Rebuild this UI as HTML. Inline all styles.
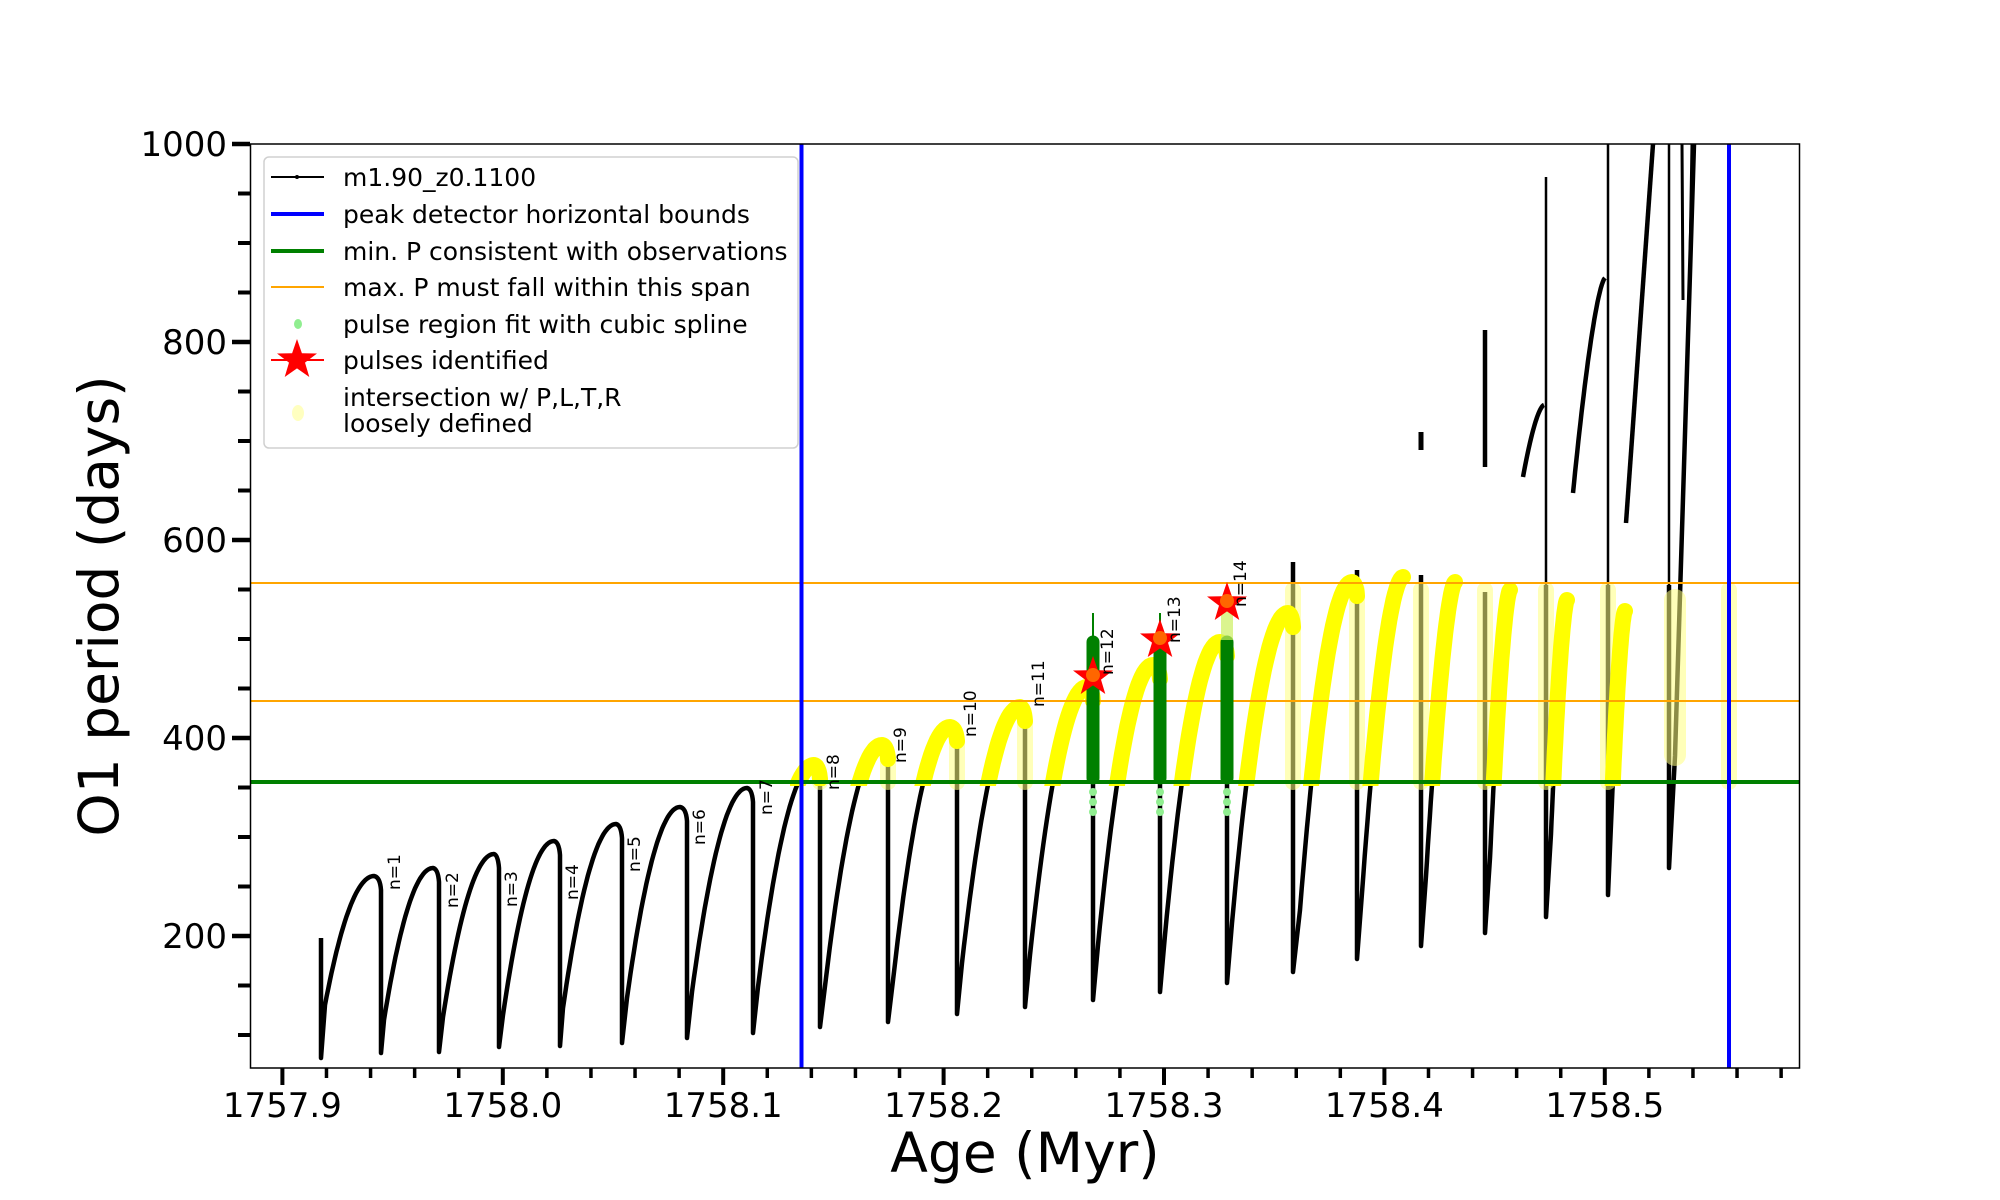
<!DOCTYPE html>
<html><head><meta charset="utf-8"><style>
html,body{margin:0;padding:0;background:#fff}
svg{display:block}
text{font-family:"DejaVu Sans","Liberation Sans",sans-serif}
</style></head><body>
<svg id="s" width="2000" height="1200" viewBox="0 0 2000 1200" xmlns="http://www.w3.org/2000/svg">
<defs>
<clipPath id="ax"><rect x="250" y="144" width="1549" height="924"/></clipPath>
<clipPath id="yc"><rect x="790" y="560" width="1009" height="226"/></clipPath>
</defs>
<rect x="0" y="0" width="2000" height="1200" fill="#fff"/>
<g id="plot" clip-path="url(#ax)">
<path id="blk" fill="none" stroke="#000" stroke-width="4.5" stroke-linejoin="round"/>
<g id="extra" fill="none" stroke="#000" stroke-width="4.5"></g>
<g id="faint" stroke="#ffff80" stroke-opacity="0.55" stroke-width="16" stroke-linecap="round" fill="none"></g>
<path id="ylw" clip-path="url(#yc)" fill="none" stroke="#ffff00" stroke-width="16" stroke-linecap="round" stroke-linejoin="round"/>
<line x1="250" y1="782" x2="1799" y2="782" stroke="#008000" stroke-width="4"/>
<line x1="250" y1="583" x2="1799" y2="583" stroke="#ffa500" stroke-width="2"/>
<line x1="250" y1="701" x2="1799" y2="701" stroke="#ffa500" stroke-width="2"/>
<line x1="801.5" y1="144" x2="801.5" y2="1068" stroke="#0000ff" stroke-width="4"/>
<line x1="1729" y1="144" x2="1729" y2="1068" stroke="#0000ff" stroke-width="4"/>
<g id="grn"></g>
</g>
<rect x="250.5" y="144" width="1549" height="924" fill="none" stroke="#000" stroke-width="1.5"/>
<g id="ticks" stroke="#000"></g>
<g id="tl" font-size="34" fill="#000"></g>
<g id="lbl" font-size="17" fill="#000"></g>
<text x="1025" y="1172" font-size="55" text-anchor="middle">Age (Myr)</text>
<text transform="translate(118,606) rotate(-90)" font-size="55" text-anchor="middle">O1 period (days)</text>
<g>
<rect x="264" y="157" width="534" height="291" rx="5" fill="#fff" fill-opacity="0.85" stroke="#d0d0d0" stroke-width="1.5"/>
<line x1="271" y1="177" x2="324" y2="177" stroke="#000" stroke-width="2"/><circle cx="297" cy="177" r="2" fill="#000"/>
<line x1="271" y1="214" x2="324" y2="214" stroke="#0000ff" stroke-width="4"/>
<line x1="271" y1="251" x2="324" y2="251" stroke="#008000" stroke-width="4"/>
<line x1="271" y1="287" x2="324" y2="287" stroke="#ffa500" stroke-width="2"/>
<ellipse cx="298" cy="324" rx="4" ry="5" fill="#90ee90"/>
<line x1="271" y1="360" x2="324" y2="360" stroke="#ff0000" stroke-width="2"/>
<polygon id="lstar" fill="#ff0000"/>
<ellipse cx="298" cy="413" rx="6" ry="8" fill="#ffffc0"/>
<g font-size="25" fill="#000">
<text x="343" y="186">m1.90_z0.1100</text>
<text x="343" y="223">peak detector horizontal bounds</text>
<text x="343" y="260">min. P consistent with observations</text>
<text x="343" y="296">max. P must fall within this span</text>
<text x="343" y="333">pulse region fit with cubic spline</text>
<text x="343" y="369">pulses identified</text>
<text x="343" y="406">intersection w/ P,L,T,R</text>
<text x="343" y="432">loosely defined</text>
</g>
</g>
</svg>
<script>
(function(){
var NS="http://www.w3.org/2000/svg";
function el(t,a,p){var e=document.createElementNS(NS,t);for(var k in a)e.setAttribute(k,a[k]);if(p)p.appendChild(e);return e;}
var C=[[325,1005,374,876,381,1053],[384,1020,433,868,439,1052],[443,1017,494,854,499,1047],[503,1015,554,841,560,1046],
[563,1008,616,824,622,1043],[627,998,680,807,687,1038],[692,992,747,788,753,1033],[758,987,814,765,820,1027],
[826,978,882,745,888,1022],[894,972,950,727,957,1014],[962,963,1020,707,1025,1007],[1030,955,1087,687,1093,1000],
[1098,945,1153,665,1160,992],[1165,935,1220,642,1227,983],[1232,923,1288,613,1293,972],[1300,910,1352,582,1357,959]];
function arc(x0,y0,x1,y1,p){var s="";for(var i=0;i<=30;i++){var t=i/30;var x=x0+(x1-x0)*t;var y=y0+(y1-y0)*(1-Math.pow(1-t,p));s+=" L"+x.toFixed(1)+" "+y.toFixed(1);}return s;}
var d="M321 938 L321 1058 L325 1005", yd="";
var f=document.getElementById("faint");
for(var i=0;i<C.length;i++){var c=C[i];
 if(i>0)d+=" L"+c[0]+" "+c[1];
 var a=arc(c[0],c[1],c[2],c[3],2);
 var q=" Q"+(c[4]-1)+" "+(c[3]+1)+" "+c[4]+" "+(c[3]+14);
 d+=a+q+" L"+c[4]+" "+c[5];
 yd+=" M"+c[0]+" "+c[1]+a+q;
 if(i>=7&&i<=10) el("line",{x1:c[4],y1:c[3]+14,x2:c[4],y2:782},f);}
var a16=arc(1362,893,1403,577,1.8);
d+=" L1362 893"+a16; yd+=" M1362 893"+a16;
var late=[[1421,575,946,1426,876,1455,582],[1485,592,933,1490,858,1510,590],[1546,585,917,1551,834,1567,600],[1608,585,895,1612,801,1625,611]];
late.forEach(function(L){var aa=arc(L[3],L[4],L[5],L[6],1.6);d+=" M"+L[0]+" "+L[1]+" L"+L[0]+" "+L[2]+" L"+L[3]+" "+L[4]+aa;yd+=" M"+L[3]+" "+L[4]+aa;});
d+=" M1669 585 L1669 868 L1675 756 L1694 144";
d+=" M1293 562 L1293 620 M1357 570 L1357 600";
document.getElementById("blk").setAttribute("d",d);
document.getElementById("ylw").setAttribute("d",yd);
var ex=document.getElementById("extra");
el("path",{d:"M1523 477"+arc(1523,477,1544,405,1.6)},ex);
el("path",{d:"M1573 493"+arc(1573,493,1605,278,1.5)},ex);
el("path",{d:"M1626 523 L1653 144"},ex);
el("path",{d:"M1485 330 L1485 467"},ex);
el("path",{d:"M1421 432 L1421 450",'stroke-width':5},ex);
el("path",{d:"M1546 177 L1546 585 M1608 144 L1608 585 M1669 144 L1669 585",'stroke-width':2.5},ex);
el("path",{d:"M1682 144 L1683 300 M1692 144 L1690 260",'stroke-width':3},ex);
[1293,1357,1421,1485,1546,1608,1729].forEach(function(x){el("line",{x1:x,y1:590,x2:x,y2:782},f);});
el("line",{x1:1675,y1:600,x2:1675,y2:755,'stroke-width':22},f);
var g=document.getElementById("grn");
[[1093,642,613],[1160,638,613],[1227,642,642]].forEach(function(b){
 el("line",{x1:b[0],y1:b[2],x2:b[0],y2:b[1],stroke:"#008000","stroke-width":2},g);
 el("line",{x1:b[0],y1:b[1],x2:b[0],y2:778,stroke:"#008000","stroke-width":13,"stroke-linecap":"round"},g);
 [792,802,812].forEach(function(y){el("circle",{cx:b[0],cy:y,r:4,fill:"#90ee90"},g);});
});
el("line",{x1:1227,y1:600,x2:1227,y2:640,stroke:"#ccf060","stroke-width":12,"stroke-opacity":0.7},g);
function star(cx,cy,R){var r=R*0.4,p=[];for(var k=0;k<10;k++){var a=-Math.PI/2+k*Math.PI/5;var rr=k%2?r:R;p.push((cx+rr*Math.cos(a)).toFixed(1)+","+(cy+rr*Math.sin(a)).toFixed(1));}return p.join(" ");}
[[1093,677],[1160,640],[1227,603]].forEach(function(s){el("polygon",{points:star(s[0],s[1],21),fill:"#ff0000"},g);el("circle",{cx:s[0],cy:s[1]-2,r:7,fill:"#ffaa00","fill-opacity":0.6},g);});
document.getElementById("lstar").setAttribute("points",star(297,360,21));
var lb=document.getElementById("lbl");
[[400,890],[458,908],[517,907],[578,900],[640,872],[705,845],[772,815],[839,790],[906,763],[976,737],[1044,707],[1113,675],[1180,643],[1246,607]].forEach(function(q,i){
 var t=el("text",{transform:"translate("+q[0]+","+q[1]+") rotate(-90)"},lb);t.textContent="n="+(i+1);});
var tk=document.getElementById("ticks"),tl=document.getElementById("tl");
for(var k=0;k<=34;k++){var a=1757.9+k*0.02;var x=282.4+(a-1757.9)*2204;if(x>1799)break;var maj=(k%5==0);
 el("line",{x1:x,y1:1068,x2:x,y2:maj?1085:1078,"stroke-width":maj?4:3.5},tk);
 if(maj){var t=el("text",{x:x,y:1117,"text-anchor":"middle"},tl);t.textContent=a.toFixed(1);}}
for(var v=100;v<=1000;v+=50){var y=144+(1000-v)*0.99;var maj=(v%200==0);
 el("line",{x1:maj?232:238,y1:y,x2:250,y2:y,"stroke-width":maj?4.5:4},tk);
 if(maj){var t=el("text",{x:227,y:y+12,"text-anchor":"end"},tl);t.textContent=v;}}
})();
</script>
</body></html>
